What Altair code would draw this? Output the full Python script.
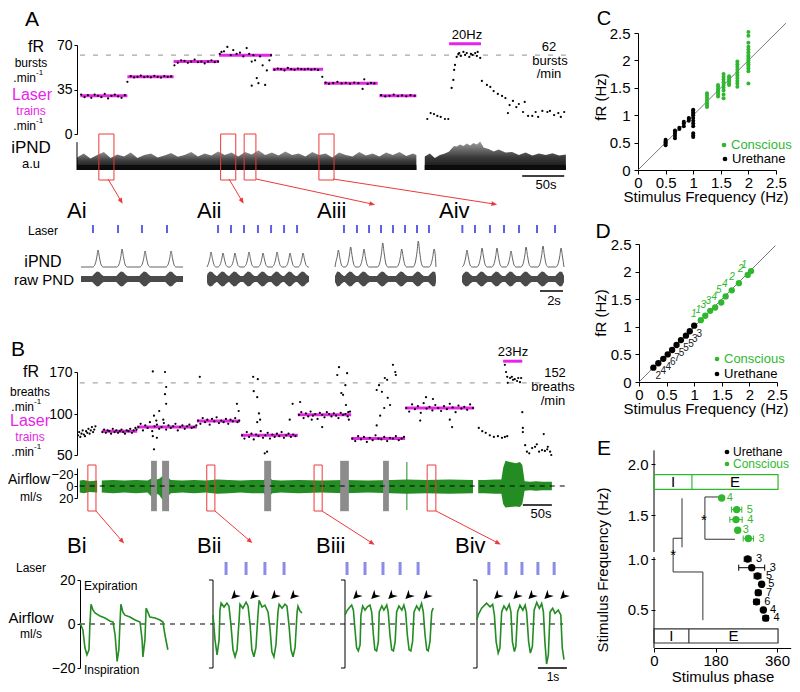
import math
import altair as alt
import pandas as pd

FONT = "Liberation Sans"
W, H = 784, 676
M = 8

MAG = "#e824e8"
BLUE = "#5f5fe8"
LAV = "#8c8ce8"
RED = "#ec3a3a"
GREEN_TRACE = "#238c23"
GREEN_DOT = "#2fb82f"
DASH_GRAY = "#a6a6a6"
BAR_GRAY = "#8c8c8c"
TRACE_GRAY = "#505050"

# =========================== DATA ===========================
# ---- Panel A: fictive rate (bursts/min) vs time (s)
A_TRAIN_START = [4, 60, 115, 169, 233, 294, 360]
A_TRAIN_END = [60, 115, 169, 232, 293, 358, 404]
A_TRAIN_RATE = [30, 45, 57, 62, 51, 40, 30]
A_TARGET_RATE = 62
A_20HZ = [443, 481]
A_20HZ_LEVEL = 71
A_DOTS_1_T = [5, 9, 13, 17, 21, 25, 29, 33, 37, 41, 45, 49, 53, 57]
A_DOTS_1_V = [31, 29, 30.5, 28.5, 31, 30, 29, 31.5, 28, 30, 31, 29.5, 28.5, 30.5]
A_DOTS_2_T = [60, 64, 68, 72, 76, 80, 84, 88, 92, 96, 100, 104, 108, 112]
A_DOTS_2_V = [41, 45.5, 44.5, 45, 46, 44.8, 45.2, 44.6, 45.8, 45, 44.4, 45.6, 45, 45.3]
A_DOTS_3_T = [116, 120, 124, 128, 132, 136, 140, 144, 148, 152, 156, 160, 164, 168]
A_DOTS_3_V = [54, 56, 58, 57.5, 56, 57, 58.5, 56.5, 57, 55.5, 57, 58, 56.5, 57]
A_DOTS_4_T = [170, 172, 175, 179, 183, 186, 190, 194, 198, 202, 205, 208, 208, 210, 212, 214, 216, 218, 221, 224, 226, 229, 231]
A_DOTS_4_V = [63, 64.5, 65, 68.5, 62, 66, 63, 64, 61, 67.6, 63, 57, 38, 62, 58, 44, 40, 61, 54, 38.6, 50, 58, 62]
A_DOTS_5_T = [235, 239, 243, 247, 251, 255, 259, 263, 267, 271, 275, 279, 283, 287, 292]
A_DOTS_5_V = [50.5, 51.5, 51, 50, 52, 51, 50.5, 51.5, 51, 50.8, 51.3, 50.6, 51, 50.4, 45]
A_DOTS_6_T = [296, 300, 305, 310, 315, 320, 325, 330, 335, 340, 342, 346, 350, 354]
A_DOTS_6_V = [40.5, 39.5, 40, 41, 39.8, 40.3, 39.6, 40.5, 40, 35.4, 43, 39.4, 40.2, 39.8]
A_DOTS_7_T = [362, 367, 372, 377, 382, 387, 392, 397, 402]
A_DOTS_7_V = [30.5, 29.5, 30, 31, 29.8, 30.3, 29.6, 30.5, 30]
A_DOTS_REC_T = [417, 421, 425, 429, 433, 438, 442]
A_DOTS_REC_V = [11.8, 16.5, 15.7, 14.2, 13.4, 11.8, 11.8]
A_DOTS_20HZ_T = [446, 448, 449, 450, 452, 454, 455, 457, 460, 462, 464, 467, 469, 471, 474, 476, 477, 480]
A_DOTS_20HZ_V = [36.2, 42.5, 50.4, 54.3, 60.6, 63, 63.7, 61.4, 64.5, 62.2, 63.7, 60.6, 63, 62.2, 63.7, 61.4, 64.5, 59.8]
A_DOTS_POST_T = [482, 488, 492, 496, 501, 506, 510, 513, 515, 519, 523, 526, 531, 533, 537, 542, 546, 549, 554, 560, 563, 568, 573, 576, 580]
A_DOTS_POST_V = [41.7, 38.6, 37, 33.8, 31.5, 29.9, 28.3, 16.5, 22.8, 26, 21.2, 23.6, 17.3, 25.2, 14.2, 14.2, 17.3, 13.4, 18.1, 17.3, 18.1, 14.9, 16.5, 13.4, 17.3]
# iPND upper envelope (a.u.)
A_IPND_T1 = [0, 8, 16, 24, 32, 40, 48, 56, 64, 72, 80, 88, 96, 104, 112, 120, 128, 136, 144, 152, 160, 168, 176, 184,
             192, 200, 208, 216, 224, 232, 240, 248, 256, 264, 272, 280, 288, 296, 304, 312, 320, 328, 336, 344, 352,
             360, 368, 376, 384, 392, 400, 404]
A_IPND_ENV1 = [0.42, 0.55, 0.38, 0.5, 0.6, 0.4, 0.52, 0.45, 0.58, 0.4, 0.5, 0.55, 0.42, 0.48, 0.57, 0.44, 0.5, 0.6, 0.45,
               0.55, 0.48, 0.62, 0.5, 0.58, 0.45, 0.6, 0.52, 0.66, 0.5, 0.58, 0.48, 0.62, 0.5, 0.55, 0.45, 0.6, 0.5,
               0.55, 0.42, 0.58, 0.5, 0.45, 0.6, 0.48, 0.55, 0.45, 0.58, 0.5, 0.6, 0.47, 0.55, 0.5]
A_IPND_T2 = [414, 420, 426, 432, 438, 443, 446, 449, 452, 456, 460, 464, 468, 472, 476, 480, 484, 490, 496, 502, 510,
             518, 526, 534, 542, 550, 558, 566, 574, 582]
A_IPND_ENV2 = [0.45, 0.55, 0.4, 0.5, 0.55, 0.62, 0.72, 0.8, 0.78, 0.85, 0.8, 0.88, 0.82, 0.9, 0.85, 0.95, 0.75, 0.7,
               0.62, 0.68, 0.58, 0.6, 0.5, 0.58, 0.48, 0.55, 0.5, 0.56, 0.48, 0.52]
A_IPND_BASE = 0.17
A_BOX_START = [26, 171, 199, 288]
A_BOX_END = [44, 189, 213, 306]
A_SCALEBAR = [530, 580]

# ---- Ai-Aiv: expanded traces (time in s)
AI_LASER = [1.04, 3.22, 5.30, 7.48]
AI_PEAK_T = [1.48, 3.57, 5.57, 7.83]
AI_PEAK_H = [18, 19, 17, 17]
AII_LASER = [0.96, 2.09, 3.22, 4.43, 5.57, 6.70, 7.83]
AII_PEAK_T = [0.35, 1.39, 2.43, 3.65, 4.87, 6.09, 7.22, 8.35]
AII_PEAK_H = [16, 15, 15, 16, 15, 16, 15, 15]
AIII_LASER = [0.78, 1.91, 2.96, 4.00, 5.04, 6.09, 7.13, 8.17]
AIII_PEAK_T = [0.29, 1.36, 2.52, 4.15, 5.80, 7.24, 8.61]
AIII_PEAK_H = [18, 21, 19, 25, 19, 27, 19]
AIV_LASER = [0.03, 1.13, 2.43, 3.65, 4.96, 6.52, 8.09]
AIV_PEAK_T = [0.43, 1.74, 3.04, 4.26, 5.57, 7.04, 8.61]
AIV_PEAK_H = [18, 20, 20, 17, 21, 22, 20]
A_SUB_END = [8.87, 8.87, 8.78, 8.87]

# ---- Panel B: breathing rate (breaths/min) vs time (s)
B_TRAIN_START = [41, 102, 205, 281, 379, 471, 564]
B_TRAIN_END = [102, 205, 279, 379, 471, 564, 683]
B_TRAIN_RATE = [79, 84, 91.5, 74, 99, 70, 110]
B_TARGET_RATE = 152
B_23HZ = [733, 766]
B_23HZ_LEVEL = 188
B_PRE_T = [0, 2, 4, 6, 8, 10, 12, 14, 16, 18, 20, 22, 24, 26, 28, 30]
B_PRE_V = [74, 78, 72, 76, 80, 75, 73, 79, 77, 82, 76, 80, 84, 78, 81, 85]
B_S1_T = [42, 45, 48, 51, 54, 57, 60, 63, 66, 69, 72, 75, 78, 81, 84, 87, 90, 93, 96, 99, 101]
B_S1_V = [78, 81, 77, 80, 79, 76, 82, 78, 80, 77, 79, 81, 78, 76, 80, 79, 82, 77, 80, 83, 81]
B_S2_T = [104, 108, 112, 116, 120, 124, 128, 132, 136, 140, 144, 148, 152, 156, 160, 164, 168, 172, 176, 180, 184, 188, 192, 196, 200, 204,
          129, 150, 152, 150, 152, 131, 129, 136, 131, 147, 135, 140]
B_S2_V = [84, 88, 80, 86, 83, 90, 79, 85, 87, 82, 84, 89, 81, 86, 83, 85, 88, 80, 84, 86, 82, 85, 87, 83, 84, 86,
          171, 170, 145, 133, 117, 98, 73, 71, 57, 93, 92, 105]
B_S3_T = [207, 211, 215, 219, 223, 227, 231, 235, 239, 243, 247, 251, 255, 259, 263, 267, 271, 275, 278, 210, 274, 277]
B_S3_V = [92, 88, 95, 90, 93, 87, 94, 91, 96, 89, 92, 90, 94, 88, 93, 91, 95, 90, 92, 162, 117, 105]
B_S4_T = [283, 287, 291, 295, 299, 303, 307, 311, 315, 319, 323, 327, 331, 335, 339, 343, 347, 351, 355, 359, 363, 367, 371, 375,
          302, 310, 303, 309, 312, 314, 309, 322, 326, 370, 365]
B_S4_V = [74, 70, 78, 72, 76, 69, 75, 73, 79, 71, 74, 77, 70, 75, 72, 76, 73, 78, 71, 74, 76, 72, 75, 73,
          162, 158, 138, 128, 101, 93, 90, 52, 54, 117, 93]
B_S5_T = [381, 385, 389, 393, 397, 401, 405, 409, 413, 417, 421, 425, 429, 433, 437, 441, 445, 449, 453, 457, 461, 465, 469,
          383, 403, 421, 447, 450, 454, 461, 464, 462, 466, 457, 467]
B_S5_V = [99, 103, 95, 101, 97, 104, 98, 100, 94, 102, 99, 96, 103, 100, 97, 101, 98, 95, 102, 99, 100, 97, 104,
          120, 93, 84, 165, 178, 135, 148, 168, 115, 103, 132, 93]
B_S6_T = [473, 478, 483, 488, 493, 498, 503, 508, 513, 518, 523, 528, 533, 538, 543, 548, 553, 558, 562,
          515, 519, 524, 529, 533, 534, 538, 543, 547, 548, 528, 521, 515]
B_S6_V = [70, 67, 73, 69, 72, 66, 71, 68, 74, 70, 69, 72, 67, 71, 70, 73, 68, 70, 72,
          140, 148, 137, 160, 157, 127, 115, 182, 170, 165, 110, 98, 86]
B_S7_T = [566, 571, 576, 581, 586, 591, 596, 601, 606, 611, 616, 621, 626, 631, 636, 641, 646, 651, 656, 661, 666, 671, 676, 681,
          590, 641, 645, 600, 612]
B_S7_V = [110, 104, 116, 108, 113, 102, 118, 109, 112, 106, 115, 110, 105, 113, 108, 117, 111, 103, 114, 109, 112, 107, 116, 110,
          92, 93, 84, 128, 125]
B_POST_T = [691, 697, 703, 710, 717, 724, 731, 736, 740]
B_POST_V = [83, 79, 77, 74, 72, 73, 71, 72, 73]
B_23_T = [736, 738, 740, 741, 745, 748, 750, 753, 757, 759, 762, 764]
B_23_V = [182, 170, 162, 152, 160, 162, 157, 158, 155, 160, 153, 160]
B_AFTER_T = [766, 767, 767, 771, 774, 778, 783, 788, 791, 795, 800, 803, 805, 809, 810, 814, 816]
B_AFTER_V = [103, 83, 78, 62, 54, 52, 58.5, 60, 63, 54, 56, 75.6, 55, 57, 60, 54, 50]

# airflow envelope (ml/s)
AF1_T = [3, 10, 20, 33]
AF1_LO = [-9, -10, -8, -9]
AF1_HI = [11, 12, 10, 11]
AF2_T = [41, 60, 80, 100, 120, 126, 131, 136, 140, 145, 150, 155, 160, 180, 200, 220, 240, 260, 280, 300, 320, 327, 335, 350, 380, 420, 460, 500, 540, 567, 600, 640, 681]
AF2_LO = [-9, -10, -9, -10, -9, -12, -18, -11, -12, -16, -20, -14, -10, -9, -10, -9, -11, -10, -9, -10, -10, -16, -10, -9, -10, -9, -10, -9, -10, -11, -10, -11, -10]
AF2_HI = [11, 12, 11, 12, 11, 17, 26, 13, 15, 22, 28, 17, 12, 11, 12, 11, 13, 12, 11, 12, 12, 20, 12, 11, 12, 11, 12, 11, 12, 13, 12, 13, 12]
AF3_T = [690, 700, 720, 730, 733, 737, 745, 755, 762, 766, 770, 780, 790, 800, 817]
AF3_LO = [-10, -10, -11, -11, -30, -42, -40, -38, -40, -35, -8, -7, -8, -7, -7]
AF3_HI = [12, 12, 13, 13, 30, 36, 35, 34, 35, 30, 8, 7, 8, 7, 7]
B_GRAY_START = [126, 145, 321, 452, 526]
B_GRAY_END = [136, 157, 333, 467, 536]
B_BOX_START = [17, 222, 407, 602]
B_BOX_END = [31, 236, 421, 617]
B_MARK_T = 567
B_SCALEBAR = [767, 817]

# ---- Bi-Biv: airflow traces (t in s, ml/s)
BI_T = [0, 0.1, 0.17, 0.24, 0.31, 0.34, 0.38, 0.45, 0.52, 0.69, 0.86, 1.03, 1.14, 1.21, 1.28, 1.34, 1.38, 1.41, 1.48, 1.55, 1.72, 1.9, 2.07, 2.14, 2.17, 2.24, 2.28, 2.34, 2.41, 2.59, 2.76, 2.86, 2.93, 3.03]
BI_V = [0.5, -2.7, -10.8, -14, -11.7, -0.5, 9, 6.3, 5, 3.6, 2.7, 1.4, 0.9, -5, -17, -11.7, 1, 9, 5.4, 4, 3.2, 1.8, 0.9, -7, -15, -7, 7.2, 5.4, 3.2, 2.7, 1.8, 0.9, -5, -11.7]
BII_T = [0, 0.07, 0.14, 0.21, 0.24, 0.28, 0.38, 0.48, 0.55, 0.62, 0.69, 0.76, 0.83, 0.9, 0.93, 1.03, 1.14, 1.21, 1.28, 1.34, 1.41, 1.48, 1.55, 1.59, 1.69, 1.79, 1.9, 1.97, 2.03, 2.1, 2.17, 2.24, 2.28, 2.38, 2.48, 2.55, 2.62, 2.69, 2.76, 2.83, 2.9, 2.93, 3.0, 3.07]
BII_V = [4.1, -7.2, -14, -7.2, 6.3, 9.5, 7.7, 9.5, 8.1, -0.5, -11.7, -14.9, -11.7, 1.8, 9, 7.2, 9.9, 8.1, -0.5, -11.7, -14.9, -10.8, 4.1, 10.8, 7.7, 8.6, 5.4, -2.7, -12.6, -14.9, -9.5, 5.4, 9, 7.2, 9, 8.1, -0.5, -11.7, -14.9, -10.8, 5.4, 8.1, 5.9, 5]
BIII_T = [0, 0.08, 0.17, 0.23, 0.29, 0.34, 0.40, 0.46, 0.52, 0.55, 0.61, 0.69, 0.77, 0.86, 0.92, 0.98, 1.03, 1.09, 1.15, 1.18, 1.27, 1.34, 1.44, 1.49, 1.55, 1.61, 1.67, 1.73, 1.78, 1.86, 1.96, 2.03, 2.09, 2.15, 2.21, 2.27, 2.33, 2.38, 2.47, 2.56, 2.64, 2.70, 2.76, 2.82, 2.87, 2.93, 2.99, 3.04]
BIII_V = [4.1, 6.3, 7.7, 8.6, 6.3, -1.8, -10.8, -12.2, -9.5, 4.1, 8.2, 6.3, 7.8, 8.6, 5.5, -5, -11.7, -12.2, -8, 5.5, 8.2, 6.3, 8.6, 5.5, -5, -11.7, -12.2, -8, 5.5, 8.2, 6.3, 8.6, 5.5, -5, -11.7, -12.2, -8, 5.5, 8.2, 6.3, 9.3, 5.5, -5, -11.7, -12.2, -8, 5.5, 7.3]
BIV_T = [0, 0.04, 0.16, 0.33, 0.45, 0.54, 0.6, 0.66, 0.73, 0.79, 0.85, 0.93, 1.02, 1.11, 1.17, 1.22, 1.29, 1.34, 1.40, 1.48, 1.58, 1.66, 1.71, 1.78, 1.84, 1.91, 1.97, 2.06, 2.15, 2.23, 2.29, 2.34, 2.40, 2.46, 2.52, 2.61, 2.69, 2.80, 2.89, 2.94, 3.0]
BIV_V = [2, 4.1, 7.2, 9.5, 7.8, 8.9, 4.1, -8, -13.2, -10.9, 5.5, 8.2, 6.3, 8.9, 5.5, -8, -12.5, -10.2, 5.5, 8.6, 6.3, 8.6, 5.5, -8, -13.2, -10.2, 6.3, 9.8, 7.1, 9.3, 5.5, -8, -18.2, -14, 5.5, 7.1, 4.8, 6.3, 4.1, -10.9, -16.2]
BII_LASER = [0.45, 1.14, 1.79, 2.45]
BIII_LASER = [0.07, 0.69, 1.31, 1.9, 2.52]
BIV_LASER = [0.41, 1.0, 1.55, 2.1, 2.66]
BII_ARROW = [0.76, 1.41, 2.14, 2.79]
BIII_ARROW = [0.41, 1.03, 1.62, 2.21, 2.83]
BIV_ARROW = [0.72, 1.38, 1.9, 2.45, 3.0]
B_ARROW_LEVEL = 13
B_SUB_SCALEBAR = [2.1, 3.1]

# ---- Panel C
C_URE_X = [0.5, 0.5, 0.5, 0.5, 0.5, 0.67, 0.67, 0.67, 0.67, 0.67, 0.75, 0.75, 0.83, 0.83, 0.83, 0.92, 0.92, 0.92,
           1, 1, 1, 1, 1, 1, 1, 1, 1, 1, 1, 1]
C_URE_Y = [0.45, 0.48, 0.5, 0.52, 0.55, 0.58, 0.62, 0.66, 0.7, 0.72, 0.75, 0.77, 0.8, 0.85, 0.88, 0.9, 0.93, 0.95,
           0.6, 0.63, 0.67, 0.8, 0.85, 0.9, 0.95, 1.0, 1.02, 1.05, 1.08, 1.1]
C_CON_X = [1.25, 1.25, 1.25, 1.25, 1.25, 1.25, 1.25, 1.25,
           1.45, 1.45, 1.45, 1.45, 1.45, 1.45, 1.45,
           1.55, 1.55, 1.55, 1.55, 1.55, 1.55, 1.55, 1.55, 1.55,
           1.65, 1.65, 1.65, 1.65, 1.65, 1.65,
           1.8, 1.8, 1.8, 1.8, 1.8, 1.8, 1.8, 1.8, 1.8, 1.8,
           2.0, 2.0, 2.0, 2.0, 2.0, 2.0, 2.0, 2.0, 2.0, 2.0, 2.0, 2.0, 2.0, 2.0, 2.0, 2.0]
C_CON_Y = [1.15, 1.18, 1.22, 1.25, 1.28, 1.32, 1.36, 1.4,
           1.34, 1.38, 1.42, 1.45, 1.48, 1.52, 1.55,
           1.31, 1.38, 1.45, 1.5, 1.55, 1.6, 1.65, 1.7, 1.75,
           1.55, 1.58, 1.62, 1.65, 1.68, 1.71,
           1.52, 1.58, 1.63, 1.68, 1.73, 1.78, 1.83, 1.88, 1.93, 1.98,
           1.58, 1.8, 1.85, 1.9, 1.93, 1.96, 2.0, 2.03, 2.07, 2.1, 2.15, 2.2, 2.25, 2.32, 2.45, 2.52]
C_TICKS = [0, 0.5, 1, 1.5, 2, 2.5]

# ---- Panel D
D_URE_X = [0.26, 0.35, 0.44, 0.52, 0.60, 0.68, 0.76, 0.85, 0.92, 1.00]
D_URE_Y = [0.26, 0.34, 0.42, 0.50, 0.58, 0.67, 0.76, 0.84, 0.92, 1.02]
D_URE_N = [2, 4, 4, 6, 7, 5, 5, 5, 3, 3]
D_CON_X = [1.12, 1.20, 1.29, 1.38, 1.49, 1.57, 1.68, 1.81, 1.97, 2.03]
D_CON_Y = [1.12, 1.20, 1.29, 1.35, 1.44, 1.55, 1.66, 1.79, 1.94, 2.01]
D_CON_N = [1, 1, 3, 3, 4, 5, 4, 2, 2, 1]

# ---- Panel E
E_CON_PHASE = [198, 242, 240, 245, 276]
E_CON_FREQ = [1.67, 1.556, 1.458, 1.353, 1.272]
E_CON_ERR = [0, 15, 18, 0, 15]
E_CON_N = [4, 5, 4, 3, 3]
E_URE_PHASE = [274, 286, 303, 315, 305, 300, 320, 327]
E_URE_FREQ = [1.0, 0.915, 0.833, 0.752, 0.67, 0.58, 0.5, 0.42]
E_URE_ERR = [10, 38, 10, 5, 8, 8, 5, 8]
E_URE_N = [3, 3, 5, 5, 7, 6, 4, 4]
E_CON_BOX = [0, 111, 363, 1.755, 1.90]
E_URE_BOX = [0, 102, 363, 0.176, 0.314]
E_SIG_X1 = [149, 149, 149, 82, 56, 56, 56, 143]
E_SIG_Y1 = [1.68, 1.68, 1.265, 1.667, 1.275, 1.275, 0.873, 0.873]
E_SIG_X2 = [208, 149, 237, 82, 82, 56, 143, 143]
E_SIG_Y2 = [1.68, 1.265, 1.265, 1.186, 1.275, 0.873, 0.873, 0.40]
E_STARS_X = [146, 56]
E_STARS_Y = [1.45, 1.07]
E_TICKS_Y = [0.5, 1.0, 1.5, 2.0]
E_TICKS_X = [0, 180, 360]

# =========================== HELPERS ===========================
L = []
ONE = pd.DataFrame({"k": [0]})


def P(v):
    return v - M


def sc(domain, rng):
    return alt.Scale(domain=list(domain), range=[P(r) for r in rng], nice=False, zero=False)


def ax_left(xpage, values, size=14, fmt=None, domain=True, tick=3, pad=2):
    kw = dict(orient="left", offset=-P(xpage), values=values, title=None, grid=False,
              labelFont=FONT, labelFontSize=size, labelColor="black", labelPadding=pad,
              labelOverlap=False, labelFlush=False, tickSize=tick, tickColor="black",
              domain=domain, domainColor="black")
    if fmt:
        kw["format"] = fmt
    return alt.Axis(**kw)


def ax_bottom(ypage, values, size=15, fmt=None, tick=4, pad=2):
    kw = dict(orient="bottom", offset=P(ypage) - H, values=values, title=None, grid=False,
              labelFont=FONT, labelFontSize=size, labelColor="black", labelPadding=pad,
              labelOverlap=False, labelFlush=False, tickSize=tick, tickColor="black",
              domain=True, domainColor="black")
    if fmt:
        kw["format"] = fmt
    return alt.Axis(**kw)


def txt(s, x, y, size=13, color="black", align="center", baseline="middle", angle=None, style=None):
    kw = dict(text=s, font=FONT, fontSize=size, color=color, align=align, baseline=baseline)
    if angle is not None:
        kw["angle"] = angle
    if style is not None:
        kw["fontStyle"] = style
    L.append(alt.Chart(ONE).mark_text(**kw).encode(x=alt.value(P(x)), y=alt.value(P(y))))


def permin(x, y, size=12, color="black"):
    txt(".min", x, y, size, color, align="right")
    txt("-1", x, y - 5, 8, color, align="left")


def seg(x1, y1, x2, y2, color="black", width=1.0):
    L.append(alt.Chart(ONE).mark_rule(color=color, strokeWidth=width).encode(
        x=alt.value(P(x1)), y=alt.value(P(y1)), x2=alt.value(P(x2)), y2=alt.value(P(y2))))


ARROW_PATH = "M0,1L-0.75,-0.8L0.75,-0.8Z"
CHEVRON = "M0,1L-0.85,-0.7L0,-0.15L0.85,-0.7Z"


def arrow(x1, y1, x2, y2):
    seg(x1, y1, x2, y2, RED, 1)
    ang = (-math.degrees(math.atan2(x2 - x1, y2 - y1))) % 360
    L.append(alt.Chart(ONE).mark_point(shape=ARROW_PATH, filled=True, color=RED, size=40,
                                       angle=ang, opacity=1, strokeWidth=0).encode(
        x=alt.value(P(x2)), y=alt.value(P(y2))))


def dot(x, y, color, size=22):
    L.append(alt.Chart(ONE).mark_circle(color=color, size=size, opacity=1).encode(
        x=alt.value(P(x)), y=alt.value(P(y))))


IPND_FILL = alt.Gradient(gradient="linear", x1=0, x2=0, y1=1, y2=0,
                         stops=[alt.GradientStop(color="#101010", offset=0),
                                alt.GradientStop(color="#3a3a3a", offset=0.45),
                                alt.GradientStop(color="#a0a0a0", offset=1)])

# =========================== PANEL A ===========================
AX = sc([0, 600], [77, 581])
AY = sc([0, 70], [134, 45])
AIP = sc([0, 1], [170, 140])

for tt, env in ((A_IPND_T1, A_IPND_ENV1), (A_IPND_T2, A_IPND_ENV2)):
    d = pd.DataFrame({"t": tt, "env": env})
    d["base"] = 0.0
    d["blk"] = A_IPND_BASE
    L.append(alt.Chart(d).mark_area(color=IPND_FILL).encode(
        x=alt.X("t:Q", scale=AX, axis=None), y=alt.Y("env:Q", scale=AIP, axis=None), y2="base:Q"))
    L.append(alt.Chart(d).mark_area(color="#0c0c0c").encode(
        x=alt.X("t:Q", scale=AX, axis=None), y=alt.Y("blk:Q", scale=AIP, axis=None), y2="base:Q"))

L.append(alt.Chart(pd.DataFrame({"t": [0], "a": [0.0], "b": [0.93]})).mark_rule(color="black").encode(
    x=alt.X("t:Q", scale=AX, axis=None), y=alt.Y("a:Q", scale=AIP, axis=None), y2="b:Q"))

L.append(alt.Chart(pd.DataFrame({"s": A_BOX_START, "e": A_BOX_END})).mark_rect(
    fillOpacity=0, stroke=RED, strokeWidth=1).encode(
    x=alt.X("s:Q", scale=AX, axis=None), x2="e:Q", y=alt.value(P(134)), y2=alt.value(P(180))))

L.append(alt.Chart(pd.DataFrame({"s": [3.6], "e": [582], "v": [A_TARGET_RATE]})).mark_rule(
    color=DASH_GRAY, strokeDash=[5, 8], strokeWidth=1.2).encode(
    x=alt.X("s:Q", scale=AX, axis=None), x2="e:Q", y=alt.Y("v:Q", scale=AY, axis=None)))

L.append(alt.Chart(pd.DataFrame({"s": A_TRAIN_START, "e": A_TRAIN_END, "r": A_TRAIN_RATE})).mark_rule(
    color=MAG, strokeWidth=3).encode(
    x=alt.X("s:Q", scale=AX, axis=None), x2="e:Q",
    y=alt.Y("r:Q", scale=AY, axis=ax_left(77, [0, 35, 70], size=14, tick=3, pad=2))))

L.append(alt.Chart(pd.DataFrame({"s": [A_20HZ[0]], "e": [A_20HZ[1]], "r": [A_20HZ_LEVEL]})).mark_rule(
    color=MAG, strokeWidth=3).encode(
    x=alt.X("s:Q", scale=AX, axis=None), x2="e:Q", y=alt.Y("r:Q", scale=AY, axis=None)))

A_FR_T = (A_DOTS_1_T + A_DOTS_2_T + A_DOTS_3_T + A_DOTS_4_T + A_DOTS_5_T + A_DOTS_6_T + A_DOTS_7_T
          + A_DOTS_REC_T + A_DOTS_20HZ_T + A_DOTS_POST_T)
A_FR_V = (A_DOTS_1_V + A_DOTS_2_V + A_DOTS_3_V + A_DOTS_4_V + A_DOTS_5_V + A_DOTS_6_V + A_DOTS_7_V
          + A_DOTS_REC_V + A_DOTS_20HZ_V + A_DOTS_POST_V)
L.append(alt.Chart(pd.DataFrame({"t": A_FR_T, "v": A_FR_V})).mark_circle(size=5, color="black", opacity=1).encode(
    x=alt.X("t:Q", scale=AX, axis=None), y=alt.Y("v:Q", scale=AY, axis=None)))

L.append(alt.Chart(pd.DataFrame({"s": [A_SCALEBAR[0]], "e": [A_SCALEBAR[1]]})).mark_rule(
    color="black", strokeWidth=1.5).encode(
    x=alt.X("s:Q", scale=AX, axis=None), x2="e:Q", y=alt.value(P(176))))

txt("A", 32, 20, 21)
txt("fR", 36, 47, 16)
txt("bursts", 31, 63, 12)
permin(36, 78)
txt("Laser", 32, 95, 16, MAG)
txt("trains", 31, 111, 12, MAG)
permin(36, 126)
txt("iPND", 31, 148, 17)
txt("a.u", 31, 164, 13)
txt("62", 549, 47, 13)
txt("bursts", 550, 61, 13)
txt("/min", 549, 74, 13)
txt("20Hz", 467, 35, 13)
txt("50s", 546, 185, 13)

arrow(108, 179, 121, 201)
arrow(229, 179, 242, 201)
arrow(256, 179, 372, 204)
arrow(333, 179, 494, 204)

# ---------------- Ai - Aiv ----------------
IPND_SHAPE = [(-0.45, 0.04), (-0.25, 0.22), (-0.1, 0.62), (0.0, 1.0), (0.12, 0.6), (0.28, 0.16), (0.45, 0.04)]
RAW_SHAPE = [(-0.5, 3.0), (-0.3, 5.5), (-0.1, 7.5), (0.1, 7.0), (0.3, 4.5), (0.48, 3.0)]


def ipnd_df(peaks, heights, end):
    rows = [(0.0, 1.0)]
    for p, h in zip(peaks, heights):
        for dt, f in IPND_SHAPE:
            t = p + dt
            if 0 < t < end:
                rows.append((t, max(1.0, f * h)))
    rows.append((end, 1.0))
    return pd.DataFrame(rows, columns=["t", "v"])


def raw_df(peaks, end):
    rows = [(0.0, 3.0)]
    for p in peaks:
        for dt, a in RAW_SHAPE:
            t = p + dt
            if 0 < t < end:
                rows.append((t, a))
    rows.append((end, 3.0))
    d = pd.DataFrame(rows, columns=["t", "a"])
    d["na"] = -d["a"]
    return d


SUB_A = [
    ("Ai", 81, 67, AI_LASER, AI_PEAK_T, AI_PEAK_H, A_SUB_END[0]),
    ("Aii", 207, 197, AII_LASER, AII_PEAK_T, AII_PEAK_H, A_SUB_END[1]),
    ("Aiii", 335, 317, AIII_LASER, AIII_PEAK_T, AIII_PEAK_H, A_SUB_END[2]),
    ("Aiv", 462, 439, AIV_LASER, AIV_PEAK_T, AIV_PEAK_H, A_SUB_END[3]),
]
SUB_IPND_Y = sc([0, 30], [268, 238])
SUB_RAW_Y = sc([-10, 10], [289, 269])
last_sx = None
for name, x0, lx, laser, pk, ph, end in SUB_A:
    sx = sc([0, 9], [x0, x0 + 9 * 11.5])
    last_sx = sx
    L.append(alt.Chart(pd.DataFrame({"t": laser})).mark_rule(color=BLUE, strokeWidth=2).encode(
        x=alt.X("t:Q", scale=sx, axis=None), y=alt.value(P(225)), y2=alt.value(P(233))))
    L.append(alt.Chart(raw_df(pk, end)).mark_area(color="#4a4a4a").encode(
        x=alt.X("t:Q", scale=sx, axis=None), y=alt.Y("a:Q", scale=SUB_RAW_Y, axis=None), y2="na:Q"))
    L.append(alt.Chart(ipnd_df(pk, ph, end)).mark_line(color=TRACE_GRAY, strokeWidth=0.9, interpolate="monotone").encode(
        x=alt.X("t:Q", scale=sx, axis=None), y=alt.Y("v:Q", scale=SUB_IPND_Y, axis=None)))
    txt(name, lx, 211, 22, align="left")

L.append(alt.Chart(pd.DataFrame({"s": [6.78], "e": [8.78]})).mark_rule(color="black", strokeWidth=1.5).encode(
    x=alt.X("s:Q", scale=last_sx, axis=None), x2="e:Q", y=alt.value(P(291))))
txt("Laser", 43, 231, 12)
txt("iPND", 43, 262, 16)
txt("raw PND", 44, 280, 15)
txt("2s", 554, 301, 13)

# =========================== PANEL B ===========================
BX = sc([0, 830], [78, 78 + 830 * 0.58])
BY = sc([50, 100, 170], [455, 414, 372])
BAF = sc([-30, 20], [468, 498])

first = True
for tt, lo, hi in ((AF1_T, AF1_LO, AF1_HI), (AF2_T, AF2_LO, AF2_HI), (AF3_T, AF3_LO, AF3_HI)):
    d = pd.DataFrame({"t": tt, "lo": lo, "hi": hi})
    yax = ax_left(77, [-20, 0, 20], size=13, tick=3, pad=1) if first else None
    first = False
    L.append(alt.Chart(d).mark_area(color=GREEN_TRACE).encode(
        x=alt.X("t:Q", scale=BX, axis=None), y=alt.Y("hi:Q", scale=BAF, axis=yax), y2="lo:Q"))

L.append(alt.Chart(pd.DataFrame({"s": B_GRAY_START, "e": B_GRAY_END, "a": [-42] * 5, "b": [42] * 5})).mark_rect(
    color=BAR_GRAY, opacity=1).encode(
    x=alt.X("s:Q", scale=BX, axis=None), x2="e:Q", y=alt.Y("a:Q", scale=BAF, axis=None), y2="b:Q"))
L.append(alt.Chart(pd.DataFrame({"t": [B_MARK_T], "a": [-40], "b": [40]})).mark_rule(color=GREEN_TRACE, strokeWidth=1).encode(
    x=alt.X("t:Q", scale=BX, axis=None), y=alt.Y("a:Q", scale=BAF, axis=None), y2="b:Q"))
L.append(alt.Chart(pd.DataFrame({"s": [3], "e": [840], "v": [0]})).mark_rule(color="black", strokeDash=[5, 5], strokeWidth=1).encode(
    x=alt.X("s:Q", scale=BX, axis=None), x2="e:Q", y=alt.Y("v:Q", scale=BAF, axis=None)))
L.append(alt.Chart(pd.DataFrame({"s": B_BOX_START, "e": B_BOX_END})).mark_rect(
    fillOpacity=0, stroke=RED, strokeWidth=1).encode(
    x=alt.X("s:Q", scale=BX, axis=None), x2="e:Q", y=alt.value(P(465)), y2=alt.value(P(511))))

L.append(alt.Chart(pd.DataFrame({"s": [3], "e": [802], "v": [B_TARGET_RATE]})).mark_rule(
    color=DASH_GRAY, strokeDash=[5, 8], strokeWidth=1.2).encode(
    x=alt.X("s:Q", scale=BX, axis=None), x2="e:Q", y=alt.Y("v:Q", scale=BY, axis=None)))
L.append(alt.Chart(pd.DataFrame({"s": B_TRAIN_START, "e": B_TRAIN_END, "r": B_TRAIN_RATE})).mark_rule(
    color=MAG, strokeWidth=3).encode(
    x=alt.X("s:Q", scale=BX, axis=None), x2="e:Q",
    y=alt.Y("r:Q", scale=BY, axis=ax_left(77, [50, 100, 170], size=14, tick=3, pad=2))))
L.append(alt.Chart(pd.DataFrame({"s": [B_23HZ[0]], "e": [B_23HZ[1]], "r": [B_23HZ_LEVEL]})).mark_rule(
    color=MAG, strokeWidth=3).encode(
    x=alt.X("s:Q", scale=BX, axis=None), x2="e:Q", y=alt.Y("r:Q", scale=BY, axis=None)))

B_FR_T = B_PRE_T + B_S1_T + B_S2_T + B_S3_T + B_S4_T + B_S5_T + B_S6_T + B_S7_T + B_POST_T + B_23_T + B_AFTER_T
B_FR_V = B_PRE_V + B_S1_V + B_S2_V + B_S3_V + B_S4_V + B_S5_V + B_S6_V + B_S7_V + B_POST_V + B_23_V + B_AFTER_V
L.append(alt.Chart(pd.DataFrame({"t": B_FR_T, "v": B_FR_V})).mark_circle(size=5, color="black", opacity=1).encode(
    x=alt.X("t:Q", scale=BX, axis=None), y=alt.Y("v:Q", scale=BY, axis=None)))
L.append(alt.Chart(pd.DataFrame({"s": [B_SCALEBAR[0]], "e": [B_SCALEBAR[1]]})).mark_rule(
    color="black", strokeWidth=1.5).encode(
    x=alt.X("s:Q", scale=BX, axis=None), x2="e:Q", y=alt.value(P(505))))

txt("B", 18, 350, 21)
txt("fR", 31, 372, 16)
txt("breaths", 30, 392, 12)
permin(34, 407)
txt("Laser", 30, 421, 16, MAG)
txt("trains", 30, 437, 12, MAG)
permin(34, 452)
txt("Airflow", 29, 480, 14)
txt("ml/s", 31, 497, 12)
txt("152", 555, 373, 13)
txt("breaths", 553, 387, 13)
txt("/min", 553, 401, 13)
txt("23Hz", 513, 352, 13)
txt("50s", 541, 514, 13)

arrow(96, 511, 122, 541)
arrow(215, 511, 250, 541)
arrow(322, 511, 372, 543)
arrow(436, 511, 498, 543)

# ---------------- Bi - Biv ----------------
BIY = sc([-20, 20], [668, 580])
SUB_B = [
    ("Bi", 80, 67, BI_T, BI_V, [], []),
    ("Bii", 213, 197, BII_T, BII_V, BII_LASER, BII_ARROW),
    ("Biii", 345, 316, BIII_T, BIII_V, BIII_LASER, BIII_ARROW),
    ("Biv", 477, 455, BIV_T, BIV_V, BIV_LASER, BIV_ARROW),
]
for i, (name, x0, lx, tt, vv, laser, arr) in enumerate(SUB_B):
    sx = sc([0, 3.2], [x0, x0 + 3.2 * 29])
    if i == 0:
        L.append(alt.Chart(pd.DataFrame({"s": [0], "e": [16.66], "v": [0]})).mark_rule(
            color="black", strokeDash=[5, 5], strokeWidth=1).encode(
            x=alt.X("s:Q", scale=sx, axis=None), x2="e:Q",
            y=alt.Y("v:Q", scale=BIY, axis=ax_left(80, [-20, 0, 20], size=14, tick=3, pad=2))))
    else:
        L.append(alt.Chart(pd.DataFrame({"t": [0], "a": [-20], "b": [20]})).mark_rule(color="black").encode(
            x=alt.X("t:Q", scale=sx, axis=None), y=alt.Y("a:Q", scale=BIY, axis=None), y2="b:Q"))
        L.append(alt.Chart(pd.DataFrame({"s": [-0.14, -0.14], "e": [0, 0], "v": [-20, 20]})).mark_rule(color="black").encode(
            x=alt.X("s:Q", scale=sx, axis=None), x2="e:Q", y=alt.Y("v:Q", scale=BIY, axis=None)))
        L.append(alt.Chart(pd.DataFrame({"t": laser})).mark_rule(color=LAV, strokeWidth=3).encode(
            x=alt.X("t:Q", scale=sx, axis=None), y=alt.value(P(562)), y2=alt.value(P(575))))
        L.append(alt.Chart(pd.DataFrame({"t": arr, "v": [B_ARROW_LEVEL] * len(arr)})).mark_point(
            shape=CHEVRON, filled=True, color="black", size=110, angle=45, opacity=1, strokeWidth=0).encode(
            x=alt.X("t:Q", scale=sx, axis=None), y=alt.Y("v:Q", scale=BIY, axis=None)))
    L.append(alt.Chart(pd.DataFrame({"t": tt, "v": vv})).mark_line(color=GREEN_TRACE, strokeWidth=1.6).encode(
        x=alt.X("t:Q", scale=sx, axis=None), y=alt.Y("v:Q", scale=BIY, axis=None)))
    if i == 3:
        L.append(alt.Chart(pd.DataFrame({"s": [B_SUB_SCALEBAR[0]], "e": [B_SUB_SCALEBAR[1]], "v": [-20]})).mark_rule(
            color="black", strokeWidth=1.5).encode(
            x=alt.X("s:Q", scale=sx, axis=None), x2="e:Q", y=alt.Y("v:Q", scale=BIY, axis=None)))
    txt(name, lx, 546, 22, align="left")

txt("Laser", 31, 568, 12)
txt("Airflow", 31, 618, 15)
txt("ml/s", 31, 634, 12)
txt("Expiration", 84, 586, 12, align="left")
txt("Inspiration", 84, 670, 12, align="left")
txt("1s", 553, 677, 12)

# =========================== PANEL C ===========================
CX = sc([0, 2.5], [638, 776])
CY = sc([0, 2.5], [170, 33])
L.append(alt.Chart(pd.DataFrame({"x": [0], "y": [0], "x2": [2.68], "y2": [2.68]})).mark_rule(
    color="#555555", strokeWidth=0.8).encode(
    x=alt.X("x:Q", scale=CX, axis=ax_bottom(170, C_TICKS, size=15, fmt=".1~f", tick=4, pad=1)),
    y=alt.Y("y:Q", scale=CY, axis=ax_left(638, C_TICKS, size=15, fmt=".1~f", tick=4, pad=4)),
    x2="x2:Q", y2="y2:Q"))
L.append(alt.Chart(pd.DataFrame({"x": C_URE_X, "y": C_URE_Y})).mark_circle(size=16, color="black", opacity=1).encode(
    x=alt.X("x:Q", scale=CX, axis=None), y=alt.Y("y:Q", scale=CY, axis=None)))
L.append(alt.Chart(pd.DataFrame({"x": C_CON_X, "y": C_CON_Y})).mark_circle(size=16, color=GREEN_DOT, opacity=1).encode(
    x=alt.X("x:Q", scale=CX, axis=None), y=alt.Y("y:Q", scale=CY, axis=None)))
txt("C", 604, 19, 20)
txt("fR (Hz)", 601, 97, 15, angle=270)
txt("Stimulus Frequency (Hz)", 706, 197, 15)
dot(724, 145, GREEN_DOT)
txt("Conscious", 731, 145, 13, GREEN_DOT, align="left")
dot(725, 159, "black")
txt("Urethane", 732, 159, 13, align="left")

# =========================== PANEL D ===========================
DX = sc([0, 2.5], [639, 777])
DY = sc([0, 2.5], [382, 244])
L.append(alt.Chart(pd.DataFrame({"x": [0], "y": [0], "x2": [2.47], "y2": [2.47]})).mark_rule(
    color="#555555", strokeWidth=0.8).encode(
    x=alt.X("x:Q", scale=DX, axis=ax_bottom(382, C_TICKS, size=15, fmt=".1~f", tick=4, pad=1)),
    y=alt.Y("y:Q", scale=DY, axis=ax_left(639, C_TICKS, size=15, fmt=".1~f", tick=4, pad=4)),
    x2="x2:Q", y2="y2:Q"))
dU = pd.DataFrame({"x": D_URE_X, "y": D_URE_Y, "n": D_URE_N})
dC = pd.DataFrame({"x": D_CON_X, "y": D_CON_Y, "n": D_CON_N})
L.append(alt.Chart(dU).mark_circle(size=40, color="black", opacity=1).encode(
    x=alt.X("x:Q", scale=DX, axis=None), y=alt.Y("y:Q", scale=DY, axis=None)))
L.append(alt.Chart(dC).mark_circle(size=40, color=GREEN_DOT, opacity=1).encode(
    x=alt.X("x:Q", scale=DX, axis=None), y=alt.Y("y:Q", scale=DY, axis=None)))
L.append(alt.Chart(dU).mark_text(font=FONT, fontSize=10, color="#222222", dx=5, dy=8, align="center").encode(
    x=alt.X("x:Q", scale=DX, axis=None), y=alt.Y("y:Q", scale=DY, axis=None), text="n:Q"))
L.append(alt.Chart(dC).mark_text(font=FONT, fontSize=10, color=GREEN_DOT, dx=-7, dy=-6, align="center", fontStyle="italic").encode(
    x=alt.X("x:Q", scale=DX, axis=None), y=alt.Y("y:Q", scale=DY, axis=None), text="n:Q"))
txt("D", 603, 232, 21)
txt("fR (Hz)", 601, 313, 15, angle=270)
txt("Stimulus Frequency (Hz)", 706, 409, 15)
dot(717, 359, GREEN_DOT)
txt("Conscious", 724, 359, 13, GREEN_DOT, align="left")
dot(717, 374, "black")
txt("Urethane", 724, 374, 13, align="left")

# =========================== PANEL E ===========================
EX = sc([0, 400], [654, 654 + 400 * 0.3417])
EY = sc([0.127, 1.02, 1.14, 2.2], [648, 557, 552, 444])
L.append(alt.Chart(pd.DataFrame({"x": [0, 0], "a": [1.14, 0.127], "b": [2.137, 1.02]})).mark_rule(color="black").encode(
    x=alt.X("x:Q", scale=EX, axis=ax_bottom(648, E_TICKS_X, size=15, tick=4, pad=1)),
    y=alt.Y("a:Q", scale=EY, axis=ax_left(655, E_TICKS_Y, size=15, fmt=".1f", domain=False, tick=4, pad=3)),
    y2="b:Q"))
for box, col in ((E_CON_BOX, GREEN_DOT), (E_URE_BOX, "#333333")):
    x0, xd, x1, y0, y1 = box
    L.append(alt.Chart(pd.DataFrame({"x": [x0], "x2": [x1], "y": [y0], "y2": [y1]})).mark_rect(
        fillOpacity=0, stroke=col, strokeWidth=1.2).encode(
        x=alt.X("x:Q", scale=EX, axis=None), x2="x2:Q", y=alt.Y("y:Q", scale=EY, axis=None), y2="y2:Q"))
    L.append(alt.Chart(pd.DataFrame({"x": [xd], "y": [y0], "y2": [y1]})).mark_rule(color=col, strokeWidth=1.2).encode(
        x=alt.X("x:Q", scale=EX, axis=None), y=alt.Y("y:Q", scale=EY, axis=None), y2="y2:Q"))
    lab = pd.DataFrame({"x": [xd / 2, (xd + x1) / 2], "y": [(y0 + y1) / 2] * 2, "s": ["I", "E"]})
    L.append(alt.Chart(lab).mark_text(font=FONT, fontSize=15, color="black").encode(
        x=alt.X("x:Q", scale=EX, axis=None), y=alt.Y("y:Q", scale=EY, axis=None), text="s:N"))

L.append(alt.Chart(pd.DataFrame({"x": E_SIG_X1, "y": E_SIG_Y1, "x2": E_SIG_X2, "y2": E_SIG_Y2})).mark_rule(
    color="#333333", strokeWidth=1).encode(
    x=alt.X("x:Q", scale=EX, axis=None), y=alt.Y("y:Q", scale=EY, axis=None), x2="x2:Q", y2="y2:Q"))
L.append(alt.Chart(pd.DataFrame({"x": E_STARS_X, "y": E_STARS_Y})).mark_text(
    font=FONT, fontSize=15, color="black", text="*", baseline="middle").encode(
    x=alt.X("x:Q", scale=EX, axis=None), y=alt.Y("y:Q", scale=EY, axis=None)))

for ph, fr, er, nn, col in ((E_URE_PHASE, E_URE_FREQ, E_URE_ERR, E_URE_N, "black"),
                            (E_CON_PHASE, E_CON_FREQ, E_CON_ERR, E_CON_N, GREEN_DOT)):
    d = pd.DataFrame({"p": ph, "f": fr, "e": er, "n": nn})
    d["lo"] = d["p"] - d["e"]
    d["hi"] = d["p"] + d["e"]
    d["fa"] = d["f"] - 0.03
    d["fb"] = d["f"] + 0.03
    de = d[d["e"] > 0]
    L.append(alt.Chart(de).mark_rule(color=col, strokeWidth=1).encode(
        x=alt.X("lo:Q", scale=EX, axis=None), x2="hi:Q", y=alt.Y("f:Q", scale=EY, axis=None)))
    for c in ("lo", "hi"):
        L.append(alt.Chart(de).mark_rule(color=col, strokeWidth=1).encode(
            x=alt.X(c + ":Q", scale=EX, axis=None), y=alt.Y("fa:Q", scale=EY, axis=None), y2="fb:Q"))
    L.append(alt.Chart(d).mark_circle(size=55, color=col, opacity=1).encode(
        x=alt.X("p:Q", scale=EX, axis=None), y=alt.Y("f:Q", scale=EY, axis=None)))
    L.append(alt.Chart(d).mark_text(font=FONT, fontSize=11, color=col, align="left", dx=5).encode(
        x=alt.X("hi:Q", scale=EX, axis=None), y=alt.Y("f:Q", scale=EY, axis=None), text="n:Q"))

txt("E", 604, 449, 21)
txt("Stimulus Frequency (Hz)", 603, 570, 15, angle=270)
txt("Stimulus phase", 723, 677, 15)
dot(727, 452, "black")
txt("Urethane", 733, 452, 12, align="left")
dot(727, 464, GREEN_DOT)
txt("Conscious", 733, 464, 12, GREEN_DOT, align="left")

# =========================== ASSEMBLE ===========================
chart = alt.layer(*L).resolve_scale(x="independent", y="independent").properties(
    width=W, height=H, padding=0, autosize=alt.AutoSizeParams(type="none"), background="white"
).configure_view(stroke=None)

chart.save("out.html", embed_options={"renderer": "svg", "actions": False})
